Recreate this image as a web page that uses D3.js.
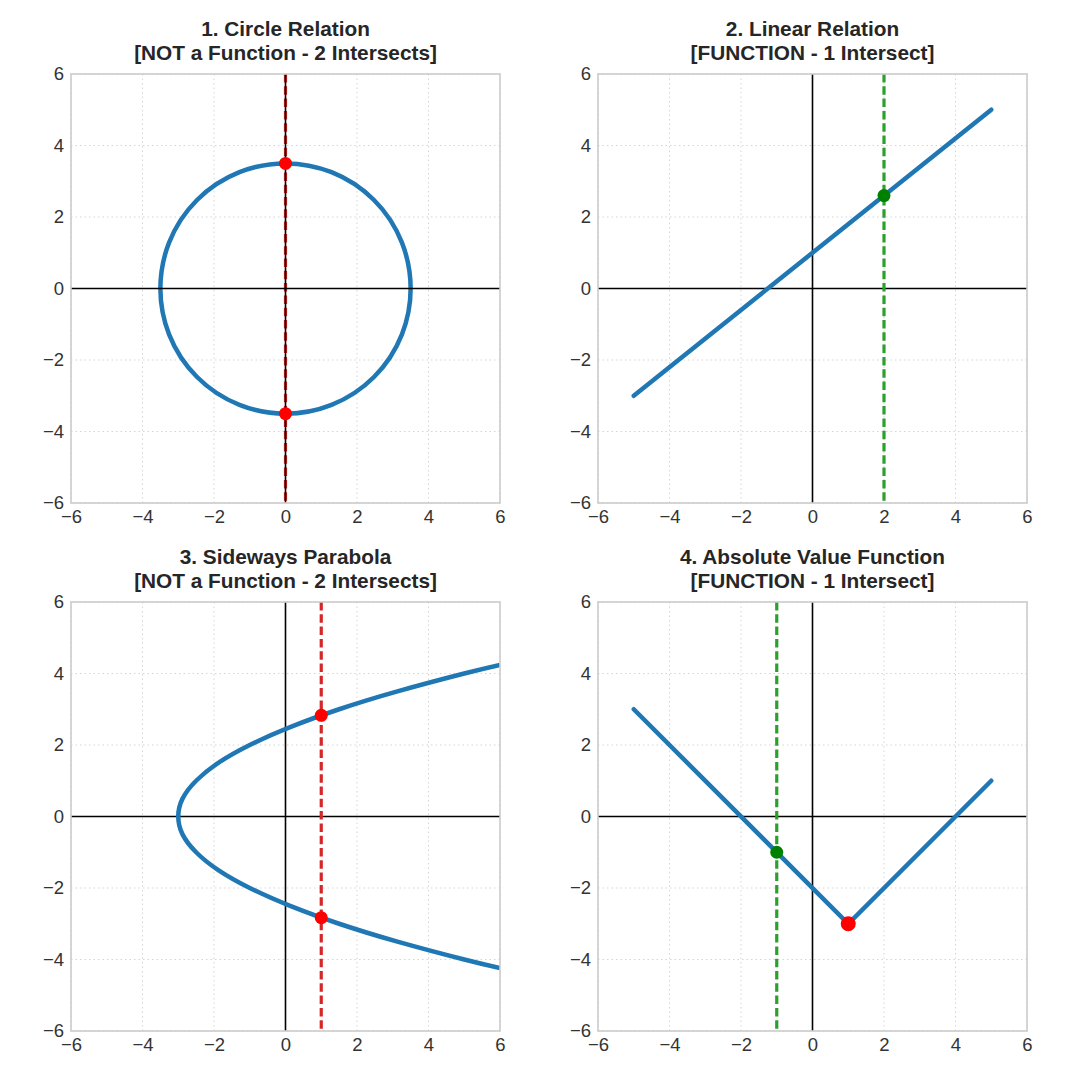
<!DOCTYPE html>
<html>
<head>
<meta charset="utf-8">
<script src="https://cdn.jsdelivr.net/npm/d3@7"></script>
<style>
  body { margin: 0; background: #fff; }
  svg { font-family: "Liberation Sans", Arial, sans-serif; }
</style>
</head>
<body>
<svg id="chart" width="1075" height="1075"></svg>
<script>
// panel titles
var titles = [
    ["1. Circle Relation", "[NOT a Function - 2 Intersects]"],
    ["2. Linear Relation", "[FUNCTION - 1 Intersect]"],
    ["3. Sideways Parabola", "[NOT a Function - 2 Intersects]"],
    ["4. Absolute Value Function", "[FUNCTION - 1 Intersect]"]
];
var ticks = [-6, -4, -2, 0, 2, 4, 6];

// 1. circle: centre and radius
var circleCenter = [0, 0];
var circleRadius = 3.5;
var circleTestX = 0;
var circleHits = [[0, 3.5], [0, -3.5]];

// 2. line
var linePoints = [[-5, -3], [5, 5]];
var lineTestX = 2;
var lineHits = [[2, 2.6]];

// 3. sideways parabola
var parabolaPoints = [
    [6, -4.24], [5, -4], [3.13, -3.5], [1.5, -3], [0.13, -2.5], [-1, -2],
    [-1.88, -1.5], [-2.5, -1], [-2.88, -0.5], [-3, 0], [-2.88, 0.5], [-2.5, 1],
    [-1.88, 1.5], [-1, 2], [0.13, 2.5], [1.5, 3], [3.13, 3.5], [5, 4], [6, 4.24]
];
var parabolaTestX = 1;
var parabolaHits = [[1, 2.83], [1, -2.83]];

// 4. absolute value
var absPoints = [[-5, 3], [1, -3], [5, 1]];
var absTestX = -1;
var absHits = [[-1, -1]];
var absVertex = [[1, -3]];

var blue = "#1f77b4", dashRed = "#d62728", dashGreen = "#2ca02c";

var svg = d3.select("#chart");
var panelLeft = [71, 598], panelTop = [74, 602], size = 429;

var x = d3.scaleLinear().domain([-6, 6]).range([0, size]);
var y = d3.scaleLinear().domain([-6, 6]).range([size, 0]);
var line = d3.line().x(d => x(d[0])).y(d => y(d[1]));

function makePanel(i) {
    var g = svg.append("g")
        .attr("transform", "translate(" + panelLeft[i % 2] + "," + panelTop[Math.floor(i / 2)] + ")");

    g.append("clipPath").attr("id", "clip" + i)
        .append("rect").attr("width", size).attr("height", size);

    // grid
    g.append("g").selectAll("line").data(ticks).enter().append("line")
        .attr("x1", d => x(d)).attr("x2", d => x(d)).attr("y1", 0).attr("y2", size)
        .attr("stroke", "#d5d5d5").attr("stroke-width", 1).attr("stroke-dasharray", "1.5,3");
    g.append("g").selectAll("line").data(ticks).enter().append("line")
        .attr("y1", d => y(d)).attr("y2", d => y(d)).attr("x1", 0).attr("x2", size)
        .attr("stroke", "#d5d5d5").attr("stroke-width", 1).attr("stroke-dasharray", "1.5,3");

    // axes
    var xa = g.append("g").attr("transform", "translate(0," + size + ")")
        .call(d3.axisBottom(x).tickValues(ticks).tickSize(0).tickPadding(7));
    var ya = g.append("g")
        .call(d3.axisLeft(y).tickValues(ticks).tickSize(0).tickPadding(7));
    [xa, ya].forEach(function(a) {
        a.select(".domain").remove();
        a.selectAll("text").attr("font-size", "18.5px").attr("fill", "#333")
            .attr("font-family", "Liberation Sans, Arial, sans-serif");
    });

    // titles
    g.append("text").attr("x", size / 2).attr("y", -38).attr("text-anchor", "middle")
        .attr("font-size", "20.8px").attr("font-weight", "bold").attr("fill", "#262626")
        .text(titles[i][0]);
    g.append("text").attr("x", size / 2).attr("y", -14).attr("text-anchor", "middle")
        .attr("font-size", "20.8px").attr("font-weight", "bold").attr("fill", "#262626")
        .text(titles[i][1]);

    var plot = g.append("g").attr("clip-path", "url(#clip" + i + ")");
    return {g: g, plot: plot};
}

function testLine(plot, tx, color) {
    plot.append("line")
        .attr("x1", x(tx)).attr("x2", x(tx)).attr("y1", 0).attr("y2", size)
        .attr("stroke", color).attr("stroke-width", 3.2).attr("stroke-dasharray", "8.5,3.8");
}
function zeroLines(plot) {
    plot.append("line").attr("x1", 0).attr("x2", size).attr("y1", y(0)).attr("y2", y(0))
        .attr("stroke", "#000").attr("stroke-width", 1.6);
    plot.append("line").attr("x1", x(0)).attr("x2", x(0)).attr("y1", 0).attr("y2", size)
        .attr("stroke", "#000").attr("stroke-width", 1.6);
}
function dots(plot, pts, color, r) {
    plot.selectAll(null).data(pts).enter().append("circle")
        .attr("cx", d => x(d[0])).attr("cy", d => y(d[1])).attr("r", r).attr("fill", color);
}
function frame(g) {
    g.append("rect").attr("width", size).attr("height", size)
        .attr("fill", "none").attr("stroke", "#cccccc").attr("stroke-width", 1.6);
}

// panel 1
var p = makePanel(0);
p.plot.append("circle").attr("cx", x(circleCenter[0])).attr("cy", y(circleCenter[1]))
    .attr("r", x(circleRadius) - x(0)).attr("fill", "none").attr("stroke", blue).attr("stroke-width", 4.5);
testLine(p.plot, circleTestX, dashRed);
zeroLines(p.plot);
dots(p.plot, circleHits, "red", 6.5);
frame(p.g);

// panel 2
p = makePanel(1);
zeroLines(p.plot);
p.plot.append("path").datum(linePoints).attr("d", line)
    .attr("fill", "none").attr("stroke", blue).attr("stroke-width", 4.5).attr("stroke-linecap", "round");
testLine(p.plot, lineTestX, dashGreen);
dots(p.plot, lineHits, "green", 6.5);
frame(p.g);

// panel 3
p = makePanel(2);
zeroLines(p.plot);
p.plot.append("path").datum(parabolaPoints).attr("d", line.curve(d3.curveNatural))
    .attr("fill", "none").attr("stroke", blue).attr("stroke-width", 4.5);
line.curve(d3.curveLinear);
testLine(p.plot, parabolaTestX, dashRed);
dots(p.plot, parabolaHits, "red", 6.5);
frame(p.g);

// panel 4
p = makePanel(3);
zeroLines(p.plot);
p.plot.append("path").datum(absPoints).attr("d", line)
    .attr("fill", "none").attr("stroke", blue).attr("stroke-width", 4.5).attr("stroke-linecap", "round");
testLine(p.plot, absTestX, dashGreen);
dots(p.plot, absHits, "green", 6.5);
dots(p.plot, absVertex, "red", 7.5);
frame(p.g);
</script>
</body>
</html>
